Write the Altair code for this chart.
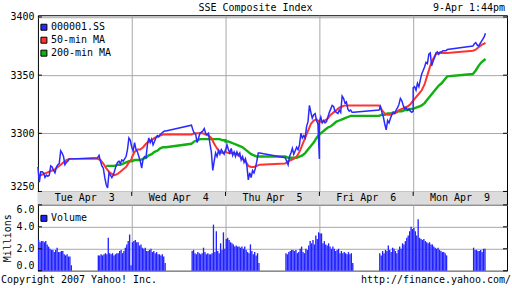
import altair as alt
import pandas as pd

FONT = "DejaVu Sans Mono"
TITLE = "SSE Composite Index"
STAMP = "9-Apr 1:44pm"
COPYRIGHT = "Copyright 2007 Yahoo! Inc."
URL = "http://finance.yahoo.com/"
NB = "\u00a0"
DAY_LABELS = [f"Tue Apr{NB}{NB}3", f"Wed Apr{NB}{NB}4", f"Thu Apr{NB}{NB}5",
              f"Fri Apr{NB}{NB}6", f"Mon Apr{NB}{NB}9"]
SERIES = ["000001.SS", "50-min MA", "200-min MA"]
SERIES_COLORS = ["#2a2aff", "#ff3333", "#10b010"]
VOLUME_LABEL = "Volume"
VOLUME_COLOR = "#2222ff"
PRICE_TICKS = [3250, 3300, 3350, 3400]
VOLUME_TICKS = [0.0, 2.0, 4.0, 6.0]

# minutes after 9:30 of each sample (trading day 9:30-15:00, lunch 11:30-13:00)
DAY_LEN = 330
AM_5 = list(range(0, 121, 5))
PM_5 = list(range(210, 331, 5))
MON_PM_5 = list(range(210, 251, 5)) + [254]
AM_10 = list(range(0, 121, 10))
PM_10 = list(range(210, 331, 10))
MON_PM_10 = [210, 220, 230, 240, 250, 254]
TUE_PM_MA200 = list(range(240, 331, 10))
BAR_AM = list(range(0, 116, 5))
BAR_PM = list(range(210, 326, 5))
MON_BAR_PM = list(range(210, 251, 5))

# ---- index (5-minute samples) ----
price_tue = [3271, 3258, 3267, 3267, 3266, 3262, 3264, 3263, 3264, 3272, 3271, 3268, 3266,
             3271, 3273, 3274, 3285, 3283, 3280, 3273, 3275, 3276, 3278, 3278, 3278,
             3279, 3281, 3276, 3272, 3270, 3262, 3256, 3253, 3266, 3264, 3262, 3264, 3268,
             3272, 3275, 3276, 3274, 3277, 3276, 3278, 3280, 3286, 3296, 3294, 3288]
price_wed = [3288, 3285, 3292, 3286, 3284, 3280, 3276, 3270, 3278, 3280, 3279, 3290, 3296,
             3292, 3295, 3290, 3293, 3296, 3298, 3297, 3299, 3300, 3301, 3302, 3302,
             3307, 3303, 3300, 3299, 3292, 3296, 3300, 3301, 3302, 3304, 3300, 3299, 3300,
             3291, 3284, 3268, 3276, 3283, 3280, 3285, 3282, 3286, 3284, 3282, 3286]
price_thu = [3285, 3290, 3286, 3283, 3287, 3281, 3284, 3280, 3284, 3281, 3283, 3277, 3280,
             3275, 3278, 3272, 3260, 3266, 3262, 3268, 3266, 3270, 3276, 3283, 3283,
             3279, 3276, 3273, 3280, 3283, 3287, 3282, 3285, 3288, 3286, 3290, 3300, 3296,
             3298, 3296, 3306, 3310, 3324, 3318, 3313, 3316, 3317, 3311, 3308, 3278]
price_fri = [3310, 3314, 3309, 3311, 3309, 3310, 3314, 3318, 3321, 3324, 3323, 3319, 3318,
             3317, 3320, 3318, 3332, 3330, 3326, 3327, 3321, 3319, 3320, 3318, 3318,
             3320, 3323, 3318, 3314, 3308, 3303, 3311, 3309, 3313, 3316, 3318, 3317, 3320,
             3322, 3325, 3330, 3328, 3324, 3321, 3322, 3320, 3321, 3319, 3318, 3319]
price_mon = [3339, 3340, 3337, 3343, 3340, 3346, 3351, 3354, 3357, 3361, 3360, 3368, 3369,
             3358, 3362, 3365, 3369, 3370, 3368, 3370, 3370, 3371, 3371, 3371, 3372,
             3375, 3377, 3378, 3376, 3375, 3377, 3379, 3381, 3383, 3386]

# ---- 50-min moving average (10-minute samples) ----
ma50_tue = [3264, 3264, 3265, 3266, 3267, 3268, 3269, 3271, 3273, 3275, 3277, 3278, 3278,
            3278, 3277, 3274, 3270, 3267, 3265, 3264, 3265, 3267, 3269, 3271, 3275, 3278]
ma50_wed = [3279, 3284, 3286, 3286, 3288, 3291, 3293, 3294, 3296, 3297, 3298, 3299, 3299,
            3299, 3300, 3300, 3300, 3300, 3299, 3298, 3296, 3291, 3287, 3284, 3283, 3284]
ma50_thu = [3284, 3283, 3283, 3283, 3282, 3280, 3278, 3276, 3272, 3271, 3271, 3272, 3273,
            3274, 3276, 3277, 3278, 3280, 3284, 3290, 3296, 3302, 3308, 3311, 3312, 3310]
ma50_fri = [3310, 3310, 3311, 3313, 3316, 3318, 3320, 3322, 3323, 3324, 3324, 3324, 3324,
            3324, 3320, 3317, 3316, 3316, 3317, 3318, 3320, 3321, 3322, 3323, 3325, 3328]
ma50_mon = [3328, 3331, 3334, 3337, 3342, 3350, 3358, 3364, 3368, 3369, 3369, 3369, 3369,
            3371, 3372, 3374, 3376, 3377, 3378]

# ---- 200-min moving average (10-minute samples) ----
ma200_tue = [3272, 3272, 3272, 3272, 3273, 3273, 3274, 3275, 3276, 3276]
ma200_wed = [3276, 3277, 3277, 3277, 3278, 3279, 3281, 3282, 3284, 3285, 3287, 3288, 3288,
             3291, 3293, 3294, 3295, 3295, 3295, 3295, 3295, 3295, 3295, 3295, 3294, 3294]
ma200_thu = [3293, 3293, 3292, 3291, 3290, 3289, 3288, 3286, 3284, 3282, 3281, 3280, 3280,
             3280, 3279, 3279, 3279, 3279, 3280, 3281, 3283, 3286, 3289, 3292, 3296, 3299]
ma200_fri = [3299, 3301, 3303, 3305, 3306, 3308, 3310, 3311, 3312, 3313, 3314, 3315, 3315,
             3315, 3316, 3316, 3317, 3317, 3318, 3318, 3319, 3319, 3320, 3320, 3321, 3321]
ma200_mon = [3321, 3322, 3323, 3324, 3326, 3329, 3332, 3335, 3338, 3341, 3343, 3346, 3349,
             3351, 3354, 3358, 3361, 3363, 3364]

# ---- volume, millions (5-minute bars) ----
vol_tue = [2.8, 2.6, 2.7, 2.7, 2.6, 2.7, 2.4, 2.2, 2.0, 1.9, 1.9, 1.7, 1.9, 2.1, 1.7, 1.7,
           1.8, 1.8, 1.5, 1.4, 1.5, 1.3, 1.3, 0.5,
           1.4, 1.4, 1.5, 1.4, 1.5, 1.6, 1.5, 3.0, 1.6, 1.5, 1.6, 1.4, 1.5, 1.6, 1.6, 1.8,
           1.9, 1.6, 1.8, 2.1, 2.4, 2.7, 3.3, 0.5]
vol_wed = [2.6, 2.7, 2.8, 2.6, 2.6, 2.3, 2.4, 2.1, 2.0, 2.1, 1.8, 1.8, 1.9, 2.0, 1.7, 1.8,
           1.6, 1.7, 1.5, 1.5, 1.4, 1.5, 1.3, 0.7,
           1.8, 1.9, 1.6, 1.5, 1.7, 1.6, 1.5, 1.6, 2.1, 1.7, 1.5, 1.6, 1.5, 1.5, 1.6, 4.2,
           1.7, 3.6, 1.8, 1.6, 2.5, 1.9, 3.5, 2.0]
vol_thu = [2.9, 3.0, 2.8, 2.6, 2.5, 2.4, 2.2, 2.3, 2.2, 2.2, 2.1, 2.2, 2.0, 2.2, 1.9, 1.7,
           1.6, 2.4, 1.8, 1.5, 1.7, 1.4, 1.6, 0.7,
           1.6, 1.5, 1.7, 1.8, 1.9, 1.9, 1.8, 1.9, 1.6, 1.7, 2.0, 2.2, 1.7, 1.6, 2.0, 1.9,
           2.3, 2.7, 2.5, 2.8, 2.4, 3.2, 2.9, 3.5]
vol_fri = [3.4, 3.4, 2.5, 2.7, 2.4, 2.3, 2.5, 2.2, 2.0, 2.2, 2.0, 1.8, 1.9, 2.0, 1.6, 1.8,
           1.6, 1.7, 1.6, 1.5, 1.7, 1.5, 1.6, 0.7,
           1.6, 1.4, 1.8, 1.6, 1.9, 1.8, 2.3, 1.9, 1.7, 2.1, 2.0, 1.8, 1.6, 1.9, 2.2, 2.0,
           2.5, 2.4, 2.7, 3.0, 3.2, 3.6, 4.0, 3.8]
vol_mon = [3.9, 3.6, 3.2, 4.7, 3.0, 2.9, 2.8, 2.9, 2.7, 2.6, 2.5, 2.6, 2.4, 2.4, 2.2, 2.1,
           2.0, 2.1, 1.9, 1.8, 1.7, 1.7, 1.6, 1.4,
           2.1, 1.9, 1.9, 1.8, 1.8, 1.9, 1.7, 2.0, 2.0]


def frame(day_values, day_minutes):
    rows = []
    for d, (vals, mins) in enumerate(zip(day_values, day_minutes)):
        assert len(vals) == len(mins), (d, len(vals), len(mins))
        rows += [{"t": d * DAY_LEN + m, "value": v} for m, v in zip(mins, vals)]
    return pd.DataFrame(rows)


FULL5 = AM_5 + PM_5
FULL10 = AM_10 + PM_10
price_df = frame([price_tue, price_wed, price_thu, price_fri, price_mon],
                 [FULL5] * 4 + [AM_5 + MON_PM_5])
ma50_df = frame([ma50_tue, ma50_wed, ma50_thu, ma50_fri, ma50_mon],
                [FULL10] * 4 + [AM_10 + MON_PM_10])
ma200_df = frame([ma200_tue, ma200_wed, ma200_thu, ma200_fri, ma200_mon],
                 [TUE_PM_MA200] + [FULL10] * 3 + [AM_10 + MON_PM_10])
vol_df = frame([vol_tue, vol_wed, vol_thu, vol_fri, vol_mon],
               [BAR_AM + BAR_PM] * 4 + [BAR_AM + MON_BAR_PM])
vol_df["t0"] = vol_df["t"] + 0.15
vol_df["t1"] = vol_df["t"] + 4.85

BOUNDS = [d * DAY_LEN for d in range(6)]
W = 470
H_PRICE, H_BAND, H_VOL = 177, 13, 66
GRID = "#a8a8a8"

x_scale = alt.Scale(domain=[0, 5 * DAY_LEN], nice=False, zero=False)
x_grid_axis = alt.Axis(values=BOUNDS[1:-1], labels=False, ticks=False, domain=False,
                       grid=True, gridColor=GRID, title=None)

# ---------------- price panel ----------------
y_price = alt.Y("value:Q",
                scale=alt.Scale(domain=[3249.6, 3401.5], nice=False, zero=False),
                axis=alt.Axis(values=PRICE_TICKS, format="d", title=None, grid=True,
                              gridColor=GRID, labelFlush=True))
x_price = alt.X("t:Q", scale=x_scale, axis=x_grid_axis)

green = alt.Chart(ma200_df).mark_line(color=SERIES_COLORS[2], strokeWidth=2.4).encode(
    x=x_price, y=y_price)
red = alt.Chart(ma50_df).mark_line(color=SERIES_COLORS[1], strokeWidth=2).encode(
    x=x_price, y=y_price)
blue = alt.Chart(price_df).mark_line(color=SERIES_COLORS[0], strokeWidth=1.5).encode(
    x=x_price, y=y_price)

ptick_df = pd.DataFrame({"value": PRICE_TICKS})
ptick_l = alt.Chart(ptick_df).mark_rule(color="black").encode(
    y=y_price, x=alt.value(0), x2=alt.value(4))
ptick_r = alt.Chart(ptick_df).mark_rule(color="black").encode(
    y=y_price, x=alt.value(W - 4), x2=alt.value(W))

legend_layers = []
for i, (lab, col) in enumerate(zip(SERIES, SERIES_COLORS)):
    ld = pd.DataFrame({"label": [lab]})
    yy = 12 + 13 * i
    legend_layers.append(alt.Chart(ld).mark_square(
        size=36, fill=col, stroke="black", strokeWidth=1, opacity=1).encode(
        x=alt.value(6), y=alt.value(yy)))
    legend_layers.append(alt.Chart(ld).mark_text(
        align="left", baseline="middle", font=FONT, fontSize=10, color="black").encode(
        x=alt.value(13), y=alt.value(yy), text="label:N"))

title_txt = alt.Chart(pd.DataFrame({"label": [TITLE]})).mark_text(
    align="center", baseline="middle", font=FONT, fontSize=10, color="black").encode(
    x=alt.value(218), y=alt.value(-7.5), text="label:N")
stamp_txt = alt.Chart(pd.DataFrame({"label": [STAMP]})).mark_text(
    align="right", baseline="middle", font=FONT, fontSize=10, color="black").encode(
    x=alt.value(W - 2), y=alt.value(-7.5), text="label:N")

price = alt.layer(green, red, blue, ptick_l, ptick_r, *legend_layers, title_txt, stamp_txt
                  ).properties(width=W, height=H_PRICE)

# ---------------- date band ----------------
band_df = pd.DataFrame({"start": BOUNDS[:-1], "end": BOUNDS[1:], "label": DAY_LABELS})
band_df["mid"] = (band_df["start"] + band_df["end"]) / 2
band_rect = alt.Chart(band_df).mark_rect(color="#dcdcdc").encode(
    x=alt.X("start:Q", scale=x_scale, axis=None), x2="end:Q",
    y=alt.value(0), y2=alt.value(H_BAND))
band_ticks = alt.Chart(pd.DataFrame({"start": BOUNDS[1:-1]})).mark_rule(color="black").encode(
    x=alt.X("start:Q", scale=x_scale, axis=None), y=alt.value(0), y2=alt.value(4))
band_text = alt.Chart(band_df).mark_text(
    align="center", baseline="middle", font=FONT, fontSize=10, color="black").encode(
    x=alt.X("mid:Q", scale=x_scale, axis=None), y=alt.value(6.5), text="label:N")
band = alt.layer(band_rect, band_ticks, band_text).properties(width=W, height=H_BAND)

# ---------------- volume panel ----------------
y_vol = alt.Y("value:Q", scale=alt.Scale(domain=[0, 6], nice=False, zero=True),
              axis=alt.Axis(values=VOLUME_TICKS, format=".1f", grid=True, gridColor=GRID,
                            labelFlush=True, title="Millions", titleFont=FONT,
                            titleFontSize=10, titleFontWeight="normal", titleColor="black",
                            titleAngle=270, titleX=-30, titleY=H_VOL / 2,
                            titleBaseline="middle", titleAlign="center"))
bars = alt.Chart(vol_df).mark_rect(color=VOLUME_COLOR).encode(
    x=alt.X("t0:Q", scale=x_scale, axis=x_grid_axis), x2="t1:Q",
    y=y_vol, y2=alt.datum(0))
vtick_df = pd.DataFrame({"value": VOLUME_TICKS})
vtick_l = alt.Chart(vtick_df).mark_rule(color="black").encode(
    y=y_vol, x=alt.value(0), x2=alt.value(4))
vtick_r = alt.Chart(vtick_df).mark_rule(color="black").encode(
    y=y_vol, x=alt.value(W - 4), x2=alt.value(W))
vld = pd.DataFrame({"label": [VOLUME_LABEL]})
vleg_sq = alt.Chart(vld).mark_square(size=36, fill=VOLUME_COLOR, stroke="black",
                                     strokeWidth=1, opacity=1).encode(
    x=alt.value(6), y=alt.value(13.5))
vleg_tx = alt.Chart(vld).mark_text(align="left", baseline="middle", font=FONT, fontSize=10,
                                   color="black").encode(
    x=alt.value(13), y=alt.value(13.5), text="label:N")
copy_txt = alt.Chart(pd.DataFrame({"label": [COPYRIGHT]})).mark_text(
    align="left", baseline="middle", font=FONT, fontSize=10, color="black").encode(
    x=alt.value(-37), y=alt.value(H_VOL + 9), text="label:N")
url_txt = alt.Chart(pd.DataFrame({"label": [URL]})).mark_text(
    align="right", baseline="middle", font=FONT, fontSize=10, color="black").encode(
    x=alt.value(W + 4), y=alt.value(H_VOL + 9), text="label:N")
volume = alt.layer(bars, vtick_l, vtick_r, vleg_sq, vleg_tx, copy_txt, url_txt
                   ).properties(width=W, height=H_VOL)

chart = alt.vconcat(price, band, volume, spacing=0, bounds="flush").properties(
    padding={"left": 0, "top": 2, "right": 0, "bottom": 0}, background="white"
).configure_view(stroke="black", strokeWidth=1).configure_axis(
    labelFont=FONT, labelFontSize=10, labelColor="black", domain=False, ticks=False,
    labelPadding=4, gridWidth=1)

chart.save("out.html", embed_options={"renderer": "svg", "actions": False})
